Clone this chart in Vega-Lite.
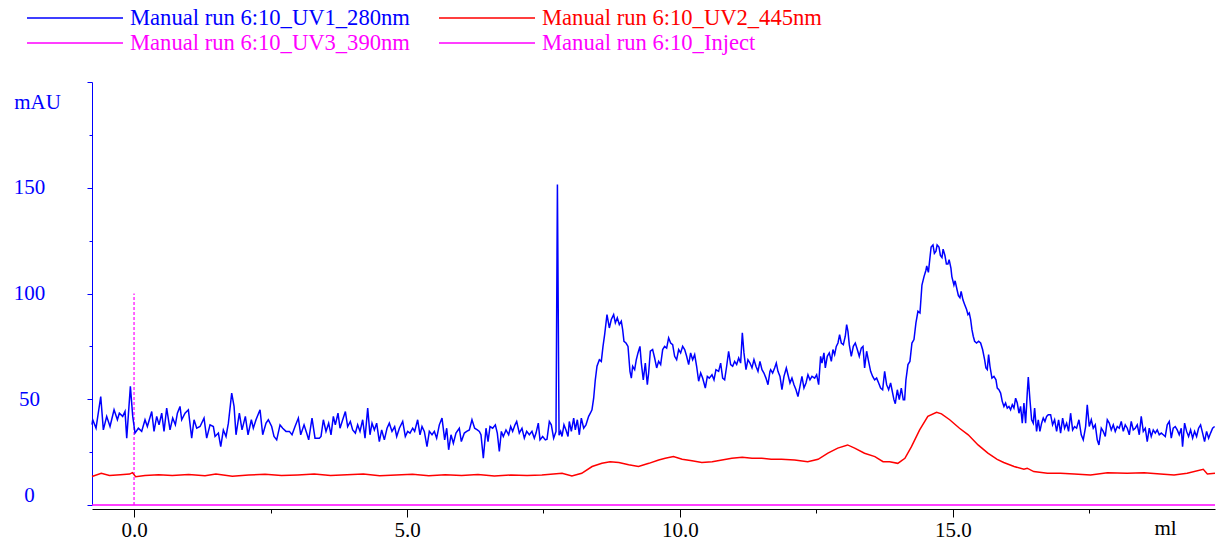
{
"$schema": "https://vega.github.io/schema/vega-lite/v6.json",
"width": 1123, "height": 423,
"autosize": {"type": "none"},
"padding": {"left": 92, "top": 82, "right": 4, "bottom": 35},
"config": {"view": {"stroke": null}, "font": "Liberation Serif"},
"data": {"values": [
{"s":"UV3_390nm","x":-0.77,"y":0},{"s":"UV3_390nm","x":19.8,"y":0},
{"s":"Inject","x":0,"y":0},{"s":"Inject","x":0,"y":100},
{"s":"UV2_445nm","x":-0.77,"y":13.5},{"s":"UV2_445nm","x":-0.6,"y":15.0},{"s":"UV2_445nm","x":-0.45,"y":14.0},{"s":"UV2_445nm","x":-0.25,"y":14.3},{"s":"UV2_445nm","x":-0.08,"y":14.6},{"s":"UV2_445nm","x":-0.03,"y":15.3},{"s":"UV2_445nm","x":0.03,"y":13.4},{"s":"UV2_445nm","x":0.2,"y":13.9},{"s":"UV2_445nm","x":0.45,"y":14.3},{"s":"UV2_445nm","x":0.7,"y":14.0},{"s":"UV2_445nm","x":1.0,"y":14.4},{"s":"UV2_445nm","x":1.3,"y":13.8},{"s":"UV2_445nm","x":1.5,"y":14.6},{"s":"UV2_445nm","x":1.8,"y":13.6},{"s":"UV2_445nm","x":2.1,"y":14.2},{"s":"UV2_445nm","x":2.4,"y":14.5},{"s":"UV2_445nm","x":2.7,"y":13.9},{"s":"UV2_445nm","x":3.0,"y":14.2},{"s":"UV2_445nm","x":3.3,"y":14.6},{"s":"UV2_445nm","x":3.6,"y":13.9},{"s":"UV2_445nm","x":3.9,"y":14.3},{"s":"UV2_445nm","x":4.2,"y":14.6},{"s":"UV2_445nm","x":4.5,"y":13.8},{"s":"UV2_445nm","x":4.8,"y":14.2},{"s":"UV2_445nm","x":5.1,"y":14.5},{"s":"UV2_445nm","x":5.4,"y":13.8},{"s":"UV2_445nm","x":5.7,"y":14.3},{"s":"UV2_445nm","x":6.0,"y":14.0},{"s":"UV2_445nm","x":6.3,"y":14.4},{"s":"UV2_445nm","x":6.6,"y":13.7},{"s":"UV2_445nm","x":6.9,"y":14.2},{"s":"UV2_445nm","x":7.2,"y":14.0},{"s":"UV2_445nm","x":7.47,"y":14.2},{"s":"UV2_445nm","x":7.84,"y":15.0},{"s":"UV2_445nm","x":8.02,"y":13.7},{"s":"UV2_445nm","x":8.2,"y":15.0},{"s":"UV2_445nm","x":8.39,"y":18.2},{"s":"UV2_445nm","x":8.57,"y":19.7},{"s":"UV2_445nm","x":8.72,"y":20.5},{"s":"UV2_445nm","x":8.88,"y":20.1},{"s":"UV2_445nm","x":9.06,"y":19.0},{"s":"UV2_445nm","x":9.24,"y":18.2},{"s":"UV2_445nm","x":9.43,"y":19.7},{"s":"UV2_445nm","x":9.61,"y":21.3},{"s":"UV2_445nm","x":9.73,"y":22.1},{"s":"UV2_445nm","x":9.88,"y":22.9},{"s":"UV2_445nm","x":10.04,"y":21.6},{"s":"UV2_445nm","x":10.22,"y":20.9},{"s":"UV2_445nm","x":10.4,"y":20.1},{"s":"UV2_445nm","x":10.59,"y":20.5},{"s":"UV2_445nm","x":10.77,"y":21.3},{"s":"UV2_445nm","x":10.95,"y":22.1},{"s":"UV2_445nm","x":11.14,"y":22.6},{"s":"UV2_445nm","x":11.32,"y":22.1},{"s":"UV2_445nm","x":11.5,"y":22.1},{"s":"UV2_445nm","x":11.67,"y":21.6},{"s":"UV2_445nm","x":11.86,"y":21.6},{"s":"UV2_445nm","x":12.1,"y":21.3},{"s":"UV2_445nm","x":12.34,"y":20.5},{"s":"UV2_445nm","x":12.53,"y":21.6},{"s":"UV2_445nm","x":12.71,"y":24.5},{"s":"UV2_445nm","x":12.89,"y":26.9},{"s":"UV2_445nm","x":13.07,"y":28.4},{"s":"UV2_445nm","x":13.2,"y":26.9},{"s":"UV2_445nm","x":13.38,"y":24.5},{"s":"UV2_445nm","x":13.57,"y":22.9},{"s":"UV2_445nm","x":13.72,"y":20.5},{"s":"UV2_445nm","x":13.84,"y":20.5},{"s":"UV2_445nm","x":13.99,"y":19.7},{"s":"UV2_445nm","x":14.12,"y":22.1},{"s":"UV2_445nm","x":14.24,"y":27.6},{"s":"UV2_445nm","x":14.39,"y":35.5},{"s":"UV2_445nm","x":14.54,"y":41.9},{"s":"UV2_445nm","x":14.7,"y":43.8},{"s":"UV2_445nm","x":14.79,"y":43.1},{"s":"UV2_445nm","x":14.94,"y":40.3},{"s":"UV2_445nm","x":15.12,"y":36.3},{"s":"UV2_445nm","x":15.28,"y":33.2},{"s":"UV2_445nm","x":15.46,"y":28.4},{"s":"UV2_445nm","x":15.64,"y":24.5},{"s":"UV2_445nm","x":15.81,"y":21.6},{"s":"UV2_445nm","x":15.93,"y":20.1},{"s":"UV2_445nm","x":16.12,"y":18.2},{"s":"UV2_445nm","x":16.3,"y":16.9},{"s":"UV2_445nm","x":16.36,"y":17.4},{"s":"UV2_445nm","x":16.48,"y":15.8},{"s":"UV2_445nm","x":16.73,"y":15.0},{"s":"UV2_445nm","x":16.97,"y":15.0},{"s":"UV2_445nm","x":17.22,"y":14.7},{"s":"UV2_445nm","x":17.52,"y":14.2},{"s":"UV2_445nm","x":17.83,"y":15.3},{"s":"UV2_445nm","x":18.19,"y":15.0},{"s":"UV2_445nm","x":18.5,"y":15.3},{"s":"UV2_445nm","x":18.8,"y":14.7},{"s":"UV2_445nm","x":19.05,"y":14.2},{"s":"UV2_445nm","x":19.29,"y":15.0},{"s":"UV2_445nm","x":19.585,"y":16.9},{"s":"UV2_445nm","x":19.66,"y":14.7},{"s":"UV2_445nm","x":19.8,"y":15.0},
{"s":"UV1_280nm","x":-0.77,"y":38},{"s":"UV1_280nm","x":-0.757,"y":40.3},{"s":"UV1_280nm","x":-0.696,"y":36.3},{"s":"UV1_280nm","x":-0.61,"y":51.3},{"s":"UV1_280nm","x":-0.562,"y":35.5},{"s":"UV1_280nm","x":-0.501,"y":41.9},{"s":"UV1_280nm","x":-0.44,"y":37.1},{"s":"UV1_280nm","x":-0.366,"y":45.0},{"s":"UV1_280nm","x":-0.305,"y":40.3},{"s":"UV1_280nm","x":-0.269,"y":43.4},{"s":"UV1_280nm","x":-0.208,"y":41.9},{"s":"UV1_280nm","x":-0.165,"y":44.2},{"s":"UV1_280nm","x":-0.134,"y":31.6},{"s":"UV1_280nm","x":-0.067,"y":56.1},{"s":"UV1_280nm","x":-0.024,"y":41.9},{"s":"UV1_280nm","x":0.018,"y":34.0},{"s":"UV1_280nm","x":0.079,"y":36.3},{"s":"UV1_280nm","x":0.14,"y":34.8},{"s":"UV1_280nm","x":0.201,"y":40.3},{"s":"UV1_280nm","x":0.244,"y":37.1},{"s":"UV1_280nm","x":0.324,"y":44.2},{"s":"UV1_280nm","x":0.366,"y":34.8},{"s":"UV1_280nm","x":0.415,"y":41.9},{"s":"UV1_280nm","x":0.458,"y":37.9},{"s":"UV1_280nm","x":0.507,"y":43.4},{"s":"UV1_280nm","x":0.549,"y":34.8},{"s":"UV1_280nm","x":0.598,"y":45.8},{"s":"UV1_280nm","x":0.659,"y":35.5},{"s":"UV1_280nm","x":0.708,"y":41.1},{"s":"UV1_280nm","x":0.757,"y":37.9},{"s":"UV1_280nm","x":0.794,"y":43.4},{"s":"UV1_280nm","x":0.842,"y":46.6},{"s":"UV1_280nm","x":0.873,"y":40.3},{"s":"UV1_280nm","x":0.934,"y":43.4},{"s":"UV1_280nm","x":0.995,"y":45.0},{"s":"UV1_280nm","x":1.056,"y":31.6},{"s":"UV1_280nm","x":1.099,"y":40.3},{"s":"UV1_280nm","x":1.148,"y":36.3},{"s":"UV1_280nm","x":1.209,"y":37.1},{"s":"UV1_280nm","x":1.282,"y":41.1},{"s":"UV1_280nm","x":1.331,"y":31.6},{"s":"UV1_280nm","x":1.392,"y":37.9},{"s":"UV1_280nm","x":1.453,"y":37.1},{"s":"UV1_280nm","x":1.484,"y":32.4},{"s":"UV1_280nm","x":1.545,"y":34.0},{"s":"UV1_280nm","x":1.588,"y":27.6},{"s":"UV1_280nm","x":1.636,"y":35.5},{"s":"UV1_280nm","x":1.685,"y":32.4},{"s":"UV1_280nm","x":1.728,"y":38.7},{"s":"UV1_280nm","x":1.789,"y":52.9},{"s":"UV1_280nm","x":1.832,"y":46.6},{"s":"UV1_280nm","x":1.868,"y":33.2},{"s":"UV1_280nm","x":1.929,"y":43.4},{"s":"UV1_280nm","x":1.978,"y":35.5},{"s":"UV1_280nm","x":2.039,"y":41.9},{"s":"UV1_280nm","x":2.088,"y":33.2},{"s":"UV1_280nm","x":2.149,"y":40.3},{"s":"UV1_280nm","x":2.185,"y":36.3},{"s":"UV1_280nm","x":2.234,"y":40.3},{"s":"UV1_280nm","x":2.308,"y":45.0},{"s":"UV1_280nm","x":2.357,"y":33.2},{"s":"UV1_280nm","x":2.418,"y":38.7},{"s":"UV1_280nm","x":2.46,"y":40.3},{"s":"UV1_280nm","x":2.521,"y":37.1},{"s":"UV1_280nm","x":2.564,"y":32.4},{"s":"UV1_280nm","x":2.613,"y":30.8},{"s":"UV1_280nm","x":2.674,"y":37.9},{"s":"UV1_280nm","x":2.723,"y":36.3},{"s":"UV1_280nm","x":2.784,"y":34.8},{"s":"UV1_280nm","x":2.845,"y":34.8},{"s":"UV1_280nm","x":2.894,"y":33.2},{"s":"UV1_280nm","x":2.949,"y":37.1},{"s":"UV1_280nm","x":3.01,"y":41.1},{"s":"UV1_280nm","x":3.053,"y":33.2},{"s":"UV1_280nm","x":3.114,"y":37.9},{"s":"UV1_280nm","x":3.162,"y":34.0},{"s":"UV1_280nm","x":3.199,"y":30.8},{"s":"UV1_280nm","x":3.26,"y":41.1},{"s":"UV1_280nm","x":3.315,"y":31.6},{"s":"UV1_280nm","x":3.394,"y":31.6},{"s":"UV1_280nm","x":3.425,"y":32.4},{"s":"UV1_280nm","x":3.468,"y":40.3},{"s":"UV1_280nm","x":3.516,"y":34.8},{"s":"UV1_280nm","x":3.565,"y":38.7},{"s":"UV1_280nm","x":3.608,"y":33.2},{"s":"UV1_280nm","x":3.651,"y":41.9},{"s":"UV1_280nm","x":3.687,"y":37.9},{"s":"UV1_280nm","x":3.736,"y":43.4},{"s":"UV1_280nm","x":3.773,"y":36.3},{"s":"UV1_280nm","x":3.822,"y":40.3},{"s":"UV1_280nm","x":3.871,"y":44.2},{"s":"UV1_280nm","x":3.913,"y":37.1},{"s":"UV1_280nm","x":3.962,"y":39.5},{"s":"UV1_280nm","x":4.005,"y":35.5},{"s":"UV1_280nm","x":4.054,"y":34.0},{"s":"UV1_280nm","x":4.096,"y":37.9},{"s":"UV1_280nm","x":4.139,"y":34.8},{"s":"UV1_280nm","x":4.188,"y":40.3},{"s":"UV1_280nm","x":4.231,"y":31.6},{"s":"UV1_280nm","x":4.28,"y":45.8},{"s":"UV1_280nm","x":4.322,"y":33.2},{"s":"UV1_280nm","x":4.359,"y":38.7},{"s":"UV1_280nm","x":4.402,"y":35.5},{"s":"UV1_280nm","x":4.444,"y":38.7},{"s":"UV1_280nm","x":4.493,"y":30.0},{"s":"UV1_280nm","x":4.536,"y":35.5},{"s":"UV1_280nm","x":4.585,"y":30.8},{"s":"UV1_280nm","x":4.634,"y":36.3},{"s":"UV1_280nm","x":4.676,"y":38.7},{"s":"UV1_280nm","x":4.725,"y":34.8},{"s":"UV1_280nm","x":4.774,"y":37.1},{"s":"UV1_280nm","x":4.811,"y":32.4},{"s":"UV1_280nm","x":4.86,"y":36.3},{"s":"UV1_280nm","x":4.921,"y":39.5},{"s":"UV1_280nm","x":4.969,"y":32.4},{"s":"UV1_280nm","x":5.012,"y":34.8},{"s":"UV1_280nm","x":5.055,"y":34.0},{"s":"UV1_280nm","x":5.104,"y":36.3},{"s":"UV1_280nm","x":5.14,"y":34.8},{"s":"UV1_280nm","x":5.195,"y":40.3},{"s":"UV1_280nm","x":5.238,"y":33.2},{"s":"UV1_280nm","x":5.275,"y":37.1},{"s":"UV1_280nm","x":5.317,"y":34.8},{"s":"UV1_280nm","x":5.366,"y":27.6},{"s":"UV1_280nm","x":5.409,"y":34.8},{"s":"UV1_280nm","x":5.458,"y":33.2},{"s":"UV1_280nm","x":5.501,"y":34.8},{"s":"UV1_280nm","x":5.543,"y":31.6},{"s":"UV1_280nm","x":5.592,"y":37.9},{"s":"UV1_280nm","x":5.641,"y":41.1},{"s":"UV1_280nm","x":5.69,"y":30.8},{"s":"UV1_280nm","x":5.727,"y":36.3},{"s":"UV1_280nm","x":5.763,"y":26.1},{"s":"UV1_280nm","x":5.806,"y":33.2},{"s":"UV1_280nm","x":5.849,"y":29.2},{"s":"UV1_280nm","x":5.897,"y":34.0},{"s":"UV1_280nm","x":5.958,"y":36.3},{"s":"UV1_280nm","x":5.995,"y":30.0},{"s":"UV1_280nm","x":6.05,"y":34.0},{"s":"UV1_280nm","x":6.093,"y":34.8},{"s":"UV1_280nm","x":6.142,"y":35.5},{"s":"UV1_280nm","x":6.19,"y":40.3},{"s":"UV1_280nm","x":6.239,"y":36.3},{"s":"UV1_280nm","x":6.288,"y":35.5},{"s":"UV1_280nm","x":6.325,"y":34.8},{"s":"UV1_280nm","x":6.355,"y":33.2},{"s":"UV1_280nm","x":6.398,"y":22.1},{"s":"UV1_280nm","x":6.447,"y":36.3},{"s":"UV1_280nm","x":6.484,"y":30.0},{"s":"UV1_280nm","x":6.52,"y":37.1},{"s":"UV1_280nm","x":6.569,"y":36.3},{"s":"UV1_280nm","x":6.618,"y":37.9},{"s":"UV1_280nm","x":6.654,"y":34.0},{"s":"UV1_280nm","x":6.691,"y":25.3},{"s":"UV1_280nm","x":6.728,"y":34.8},{"s":"UV1_280nm","x":6.764,"y":32.4},{"s":"UV1_280nm","x":6.813,"y":35.5},{"s":"UV1_280nm","x":6.862,"y":33.2},{"s":"UV1_280nm","x":6.899,"y":37.1},{"s":"UV1_280nm","x":6.935,"y":34.8},{"s":"UV1_280nm","x":6.978,"y":37.9},{"s":"UV1_280nm","x":7.009,"y":39.5},{"s":"UV1_280nm","x":7.057,"y":34.0},{"s":"UV1_280nm","x":7.106,"y":36.3},{"s":"UV1_280nm","x":7.149,"y":31.6},{"s":"UV1_280nm","x":7.192,"y":34.8},{"s":"UV1_280nm","x":7.241,"y":33.2},{"s":"UV1_280nm","x":7.289,"y":34.8},{"s":"UV1_280nm","x":7.332,"y":31.6},{"s":"UV1_280nm","x":7.363,"y":34.0},{"s":"UV1_280nm","x":7.405,"y":38.7},{"s":"UV1_280nm","x":7.436,"y":30.8},{"s":"UV1_280nm","x":7.485,"y":32.4},{"s":"UV1_280nm","x":7.534,"y":30.8},{"s":"UV1_280nm","x":7.564,"y":31.1},{"s":"UV1_280nm","x":7.607,"y":39.5},{"s":"UV1_280nm","x":7.643,"y":37.9},{"s":"UV1_280nm","x":7.686,"y":31.6},{"s":"UV1_280nm","x":7.729,"y":34.8},{"s":"UV1_280nm","x":7.755,"y":151.5},{"s":"UV1_280nm","x":7.785,"y":33.0},{"s":"UV1_280nm","x":7.814,"y":34.8},{"s":"UV1_280nm","x":7.839,"y":32.4},{"s":"UV1_280nm","x":7.875,"y":37.9},{"s":"UV1_280nm","x":7.912,"y":35.5},{"s":"UV1_280nm","x":7.949,"y":32.4},{"s":"UV1_280nm","x":7.973,"y":39.5},{"s":"UV1_280nm","x":8.01,"y":34.8},{"s":"UV1_280nm","x":8.053,"y":41.1},{"s":"UV1_280nm","x":8.083,"y":35.5},{"s":"UV1_280nm","x":8.12,"y":40.3},{"s":"UV1_280nm","x":8.156,"y":33.2},{"s":"UV1_280nm","x":8.193,"y":41.1},{"s":"UV1_280nm","x":8.236,"y":36.3},{"s":"UV1_280nm","x":8.278,"y":37.9},{"s":"UV1_280nm","x":8.327,"y":41.9},{"s":"UV1_280nm","x":8.358,"y":43.4},{"s":"UV1_280nm","x":8.388,"y":45.0},{"s":"UV1_280nm","x":8.419,"y":50.5},{"s":"UV1_280nm","x":8.449,"y":59.2},{"s":"UV1_280nm","x":8.48,"y":65.6},{"s":"UV1_280nm","x":8.523,"y":68.7},{"s":"UV1_280nm","x":8.559,"y":67.9},{"s":"UV1_280nm","x":8.59,"y":75.0},{"s":"UV1_280nm","x":8.62,"y":80.6},{"s":"UV1_280nm","x":8.663,"y":90.0},{"s":"UV1_280nm","x":8.706,"y":83.7},{"s":"UV1_280nm","x":8.742,"y":87.7},{"s":"UV1_280nm","x":8.785,"y":90.0},{"s":"UV1_280nm","x":8.816,"y":86.1},{"s":"UV1_280nm","x":8.852,"y":88.5},{"s":"UV1_280nm","x":8.889,"y":85.3},{"s":"UV1_280nm","x":8.925,"y":86.9},{"s":"UV1_280nm","x":8.95,"y":82.9},{"s":"UV1_280nm","x":8.974,"y":77.4},{"s":"UV1_280nm","x":9.011,"y":76.6},{"s":"UV1_280nm","x":9.048,"y":75.0},{"s":"UV1_280nm","x":9.084,"y":63.2},{"s":"UV1_280nm","x":9.109,"y":60.0},{"s":"UV1_280nm","x":9.133,"y":65.6},{"s":"UV1_280nm","x":9.17,"y":64.0},{"s":"UV1_280nm","x":9.2,"y":68.7},{"s":"UV1_280nm","x":9.231,"y":71.9},{"s":"UV1_280nm","x":9.267,"y":75.0},{"s":"UV1_280nm","x":9.292,"y":67.1},{"s":"UV1_280nm","x":9.328,"y":59.2},{"s":"UV1_280nm","x":9.365,"y":67.1},{"s":"UV1_280nm","x":9.402,"y":56.9},{"s":"UV1_280nm","x":9.426,"y":62.4},{"s":"UV1_280nm","x":9.457,"y":72.7},{"s":"UV1_280nm","x":9.499,"y":73.5},{"s":"UV1_280nm","x":9.536,"y":69.5},{"s":"UV1_280nm","x":9.573,"y":64.8},{"s":"UV1_280nm","x":9.609,"y":67.9},{"s":"UV1_280nm","x":9.646,"y":66.4},{"s":"UV1_280nm","x":9.683,"y":73.5},{"s":"UV1_280nm","x":9.719,"y":75.0},{"s":"UV1_280nm","x":9.756,"y":74.2},{"s":"UV1_280nm","x":9.792,"y":79.0},{"s":"UV1_280nm","x":9.829,"y":76.6},{"s":"UV1_280nm","x":9.866,"y":75.8},{"s":"UV1_280nm","x":9.902,"y":70.3},{"s":"UV1_280nm","x":9.939,"y":68.7},{"s":"UV1_280nm","x":9.976,"y":73.5},{"s":"UV1_280nm","x":10.012,"y":71.9},{"s":"UV1_280nm","x":10.049,"y":75.0},{"s":"UV1_280nm","x":10.086,"y":73.5},{"s":"UV1_280nm","x":10.122,"y":70.3},{"s":"UV1_280nm","x":10.159,"y":66.4},{"s":"UV1_280nm","x":10.195,"y":71.9},{"s":"UV1_280nm","x":10.232,"y":68.7},{"s":"UV1_280nm","x":10.269,"y":71.1},{"s":"UV1_280nm","x":10.305,"y":65.6},{"s":"UV1_280nm","x":10.342,"y":58.5},{"s":"UV1_280nm","x":10.379,"y":62.4},{"s":"UV1_280nm","x":10.415,"y":60.0},{"s":"UV1_280nm","x":10.464,"y":55.3},{"s":"UV1_280nm","x":10.501,"y":60.8},{"s":"UV1_280nm","x":10.537,"y":60.0},{"s":"UV1_280nm","x":10.586,"y":61.6},{"s":"UV1_280nm","x":10.623,"y":59.2},{"s":"UV1_280nm","x":10.659,"y":64.0},{"s":"UV1_280nm","x":10.708,"y":63.2},{"s":"UV1_280nm","x":10.745,"y":67.1},{"s":"UV1_280nm","x":10.782,"y":60.0},{"s":"UV1_280nm","x":10.818,"y":59.2},{"s":"UV1_280nm","x":10.855,"y":65.6},{"s":"UV1_280nm","x":10.891,"y":72.7},{"s":"UV1_280nm","x":10.928,"y":66.4},{"s":"UV1_280nm","x":10.965,"y":65.6},{"s":"UV1_280nm","x":11.001,"y":67.9},{"s":"UV1_280nm","x":11.038,"y":66.4},{"s":"UV1_280nm","x":11.075,"y":69.5},{"s":"UV1_280nm","x":11.111,"y":67.1},{"s":"UV1_280nm","x":11.142,"y":81.4},{"s":"UV1_280nm","x":11.172,"y":71.9},{"s":"UV1_280nm","x":11.209,"y":64.0},{"s":"UV1_280nm","x":11.245,"y":68.7},{"s":"UV1_280nm","x":11.282,"y":67.1},{"s":"UV1_280nm","x":11.319,"y":64.8},{"s":"UV1_280nm","x":11.355,"y":68.7},{"s":"UV1_280nm","x":11.392,"y":65.6},{"s":"UV1_280nm","x":11.429,"y":63.2},{"s":"UV1_280nm","x":11.465,"y":67.9},{"s":"UV1_280nm","x":11.502,"y":64.0},{"s":"UV1_280nm","x":11.538,"y":62.4},{"s":"UV1_280nm","x":11.575,"y":60.0},{"s":"UV1_280nm","x":11.612,"y":56.9},{"s":"UV1_280nm","x":11.648,"y":63.2},{"s":"UV1_280nm","x":11.661,"y":64.0},{"s":"UV1_280nm","x":11.697,"y":62.4},{"s":"UV1_280nm","x":11.734,"y":64.8},{"s":"UV1_280nm","x":11.764,"y":67.1},{"s":"UV1_280nm","x":11.795,"y":63.2},{"s":"UV1_280nm","x":11.832,"y":60.8},{"s":"UV1_280nm","x":11.868,"y":54.5},{"s":"UV1_280nm","x":11.905,"y":60.8},{"s":"UV1_280nm","x":11.948,"y":64.8},{"s":"UV1_280nm","x":11.978,"y":61.6},{"s":"UV1_280nm","x":12.015,"y":57.7},{"s":"UV1_280nm","x":12.051,"y":60.0},{"s":"UV1_280nm","x":12.088,"y":56.9},{"s":"UV1_280nm","x":12.125,"y":54.5},{"s":"UV1_280nm","x":12.161,"y":51.3},{"s":"UV1_280nm","x":12.198,"y":56.1},{"s":"UV1_280nm","x":12.234,"y":60.8},{"s":"UV1_280nm","x":12.271,"y":55.3},{"s":"UV1_280nm","x":12.308,"y":57.7},{"s":"UV1_280nm","x":12.344,"y":61.6},{"s":"UV1_280nm","x":12.381,"y":59.2},{"s":"UV1_280nm","x":12.418,"y":60.8},{"s":"UV1_280nm","x":12.467,"y":60.0},{"s":"UV1_280nm","x":12.503,"y":61.6},{"s":"UV1_280nm","x":12.54,"y":56.9},{"s":"UV1_280nm","x":12.576,"y":70.3},{"s":"UV1_280nm","x":12.601,"y":67.1},{"s":"UV1_280nm","x":12.637,"y":71.9},{"s":"UV1_280nm","x":12.662,"y":64.8},{"s":"UV1_280nm","x":12.698,"y":70.3},{"s":"UV1_280nm","x":12.735,"y":71.9},{"s":"UV1_280nm","x":12.772,"y":67.9},{"s":"UV1_280nm","x":12.802,"y":73.5},{"s":"UV1_280nm","x":12.833,"y":71.1},{"s":"UV1_280nm","x":12.863,"y":75.0},{"s":"UV1_280nm","x":12.894,"y":76.6},{"s":"UV1_280nm","x":12.924,"y":80.6},{"s":"UV1_280nm","x":12.955,"y":76.6},{"s":"UV1_280nm","x":12.992,"y":75.8},{"s":"UV1_280nm","x":13.028,"y":79.8},{"s":"UV1_280nm","x":13.053,"y":85.3},{"s":"UV1_280nm","x":13.077,"y":82.1},{"s":"UV1_280nm","x":13.101,"y":75.8},{"s":"UV1_280nm","x":13.138,"y":70.3},{"s":"UV1_280nm","x":13.175,"y":75.0},{"s":"UV1_280nm","x":13.211,"y":76.6},{"s":"UV1_280nm","x":13.248,"y":73.5},{"s":"UV1_280nm","x":13.284,"y":70.3},{"s":"UV1_280nm","x":13.321,"y":74.2},{"s":"UV1_280nm","x":13.352,"y":75.0},{"s":"UV1_280nm","x":13.382,"y":64.8},{"s":"UV1_280nm","x":13.419,"y":72.7},{"s":"UV1_280nm","x":13.455,"y":67.9},{"s":"UV1_280nm","x":13.492,"y":63.2},{"s":"UV1_280nm","x":13.529,"y":60.8},{"s":"UV1_280nm","x":13.565,"y":59.2},{"s":"UV1_280nm","x":13.602,"y":60.0},{"s":"UV1_280nm","x":13.639,"y":57.7},{"s":"UV1_280nm","x":13.675,"y":55.3},{"s":"UV1_280nm","x":13.712,"y":54.5},{"s":"UV1_280nm","x":13.749,"y":63.2},{"s":"UV1_280nm","x":13.785,"y":56.9},{"s":"UV1_280nm","x":13.822,"y":54.5},{"s":"UV1_280nm","x":13.858,"y":57.7},{"s":"UV1_280nm","x":13.883,"y":54.5},{"s":"UV1_280nm","x":13.919,"y":49.8},{"s":"UV1_280nm","x":13.944,"y":47.9},{"s":"UV1_280nm","x":13.981,"y":54.5},{"s":"UV1_280nm","x":14.017,"y":49.8},{"s":"UV1_280nm","x":14.054,"y":55.3},{"s":"UV1_280nm","x":14.09,"y":49.8},{"s":"UV1_280nm","x":14.115,"y":49.8},{"s":"UV1_280nm","x":14.139,"y":59.2},{"s":"UV1_280nm","x":14.176,"y":66.4},{"s":"UV1_280nm","x":14.212,"y":67.9},{"s":"UV1_280nm","x":14.249,"y":76.6},{"s":"UV1_280nm","x":14.286,"y":78.2},{"s":"UV1_280nm","x":14.322,"y":86.1},{"s":"UV1_280nm","x":14.359,"y":91.6},{"s":"UV1_280nm","x":14.396,"y":90.8},{"s":"UV1_280nm","x":14.432,"y":104},{"s":"UV1_280nm","x":14.47,"y":108},{"s":"UV1_280nm","x":14.505,"y":111},{"s":"UV1_280nm","x":14.52,"y":113},{"s":"UV1_280nm","x":14.55,"y":110},{"s":"UV1_280nm","x":14.6,"y":122},{"s":"UV1_280nm","x":14.634,"y":123},{"s":"UV1_280nm","x":14.66,"y":119},{"s":"UV1_280nm","x":14.689,"y":120},{"s":"UV1_280nm","x":14.71,"y":123},{"s":"UV1_280nm","x":14.744,"y":122},{"s":"UV1_280nm","x":14.77,"y":118},{"s":"UV1_280nm","x":14.799,"y":117},{"s":"UV1_280nm","x":14.82,"y":121},{"s":"UV1_280nm","x":14.853,"y":118},{"s":"UV1_280nm","x":14.88,"y":114},{"s":"UV1_280nm","x":14.908,"y":114},{"s":"UV1_280nm","x":14.93,"y":116},{"s":"UV1_280nm","x":14.963,"y":112},{"s":"UV1_280nm","x":14.98,"y":108},{"s":"UV1_280nm","x":15.018,"y":104},{"s":"UV1_280nm","x":15.04,"y":106},{"s":"UV1_280nm","x":15.073,"y":102},{"s":"UV1_280nm","x":15.1,"y":99},{"s":"UV1_280nm","x":15.128,"y":98},{"s":"UV1_280nm","x":15.15,"y":101},{"s":"UV1_280nm","x":15.183,"y":97},{"s":"UV1_280nm","x":15.214,"y":94.8},{"s":"UV1_280nm","x":15.25,"y":92.4},{"s":"UV1_280nm","x":15.275,"y":90.0},{"s":"UV1_280nm","x":15.299,"y":90.8},{"s":"UV1_280nm","x":15.324,"y":87.7},{"s":"UV1_280nm","x":15.348,"y":82.9},{"s":"UV1_280nm","x":15.372,"y":79.8},{"s":"UV1_280nm","x":15.397,"y":77.4},{"s":"UV1_280nm","x":15.433,"y":76.6},{"s":"UV1_280nm","x":15.47,"y":77.4},{"s":"UV1_280nm","x":15.507,"y":76.6},{"s":"UV1_280nm","x":15.543,"y":73.5},{"s":"UV1_280nm","x":15.58,"y":68.7},{"s":"UV1_280nm","x":15.604,"y":64.8},{"s":"UV1_280nm","x":15.629,"y":64.0},{"s":"UV1_280nm","x":15.653,"y":71.1},{"s":"UV1_280nm","x":15.678,"y":65.6},{"s":"UV1_280nm","x":15.714,"y":60.0},{"s":"UV1_280nm","x":15.751,"y":60.8},{"s":"UV1_280nm","x":15.788,"y":59.2},{"s":"UV1_280nm","x":15.812,"y":55.3},{"s":"UV1_280nm","x":15.842,"y":54.5},{"s":"UV1_280nm","x":15.873,"y":52.9},{"s":"UV1_280nm","x":15.903,"y":49.0},{"s":"UV1_280nm","x":15.934,"y":46.6},{"s":"UV1_280nm","x":15.964,"y":48.2},{"s":"UV1_280nm","x":15.995,"y":45.8},{"s":"UV1_280nm","x":16.026,"y":46.6},{"s":"UV1_280nm","x":16.056,"y":45.0},{"s":"UV1_280nm","x":16.087,"y":47.4},{"s":"UV1_280nm","x":16.117,"y":45.8},{"s":"UV1_280nm","x":16.148,"y":50.5},{"s":"UV1_280nm","x":16.178,"y":48.2},{"s":"UV1_280nm","x":16.209,"y":43.4},{"s":"UV1_280nm","x":16.239,"y":46.6},{"s":"UV1_280nm","x":16.27,"y":38.7},{"s":"UV1_280nm","x":16.3,"y":48.2},{"s":"UV1_280nm","x":16.331,"y":38.7},{"s":"UV1_280nm","x":16.361,"y":52.9},{"s":"UV1_280nm","x":16.38,"y":60.5},{"s":"UV1_280nm","x":16.41,"y":49.8},{"s":"UV1_280nm","x":16.441,"y":40.3},{"s":"UV1_280nm","x":16.471,"y":38.7},{"s":"UV1_280nm","x":16.496,"y":45.8},{"s":"UV1_280nm","x":16.532,"y":34.8},{"s":"UV1_280nm","x":16.563,"y":40.3},{"s":"UV1_280nm","x":16.593,"y":34.8},{"s":"UV1_280nm","x":16.624,"y":38.7},{"s":"UV1_280nm","x":16.654,"y":41.1},{"s":"UV1_280nm","x":16.685,"y":39.5},{"s":"UV1_280nm","x":16.716,"y":41.9},{"s":"UV1_280nm","x":16.746,"y":42.7},{"s":"UV1_280nm","x":16.789,"y":42.7},{"s":"UV1_280nm","x":16.825,"y":37.9},{"s":"UV1_280nm","x":16.862,"y":40.3},{"s":"UV1_280nm","x":16.899,"y":34.8},{"s":"UV1_280nm","x":16.935,"y":40.3},{"s":"UV1_280nm","x":16.972,"y":34.0},{"s":"UV1_280nm","x":17.009,"y":41.1},{"s":"UV1_280nm","x":17.045,"y":36.3},{"s":"UV1_280nm","x":17.082,"y":38.7},{"s":"UV1_280nm","x":17.118,"y":34.8},{"s":"UV1_280nm","x":17.155,"y":43.4},{"s":"UV1_280nm","x":17.192,"y":35.5},{"s":"UV1_280nm","x":17.228,"y":37.1},{"s":"UV1_280nm","x":17.265,"y":36.3},{"s":"UV1_280nm","x":17.308,"y":40.3},{"s":"UV1_280nm","x":17.35,"y":33.2},{"s":"UV1_280nm","x":17.387,"y":30.8},{"s":"UV1_280nm","x":17.43,"y":37.1},{"s":"UV1_280nm","x":17.46,"y":47.4},{"s":"UV1_280nm","x":17.497,"y":37.1},{"s":"UV1_280nm","x":17.534,"y":40.3},{"s":"UV1_280nm","x":17.57,"y":36.3},{"s":"UV1_280nm","x":17.607,"y":37.9},{"s":"UV1_280nm","x":17.643,"y":30.8},{"s":"UV1_280nm","x":17.674,"y":28.4},{"s":"UV1_280nm","x":17.717,"y":36.3},{"s":"UV1_280nm","x":17.753,"y":34.8},{"s":"UV1_280nm","x":17.79,"y":32.4},{"s":"UV1_280nm","x":17.827,"y":40.3},{"s":"UV1_280nm","x":17.863,"y":38.7},{"s":"UV1_280nm","x":17.9,"y":35.5},{"s":"UV1_280nm","x":17.937,"y":37.9},{"s":"UV1_280nm","x":17.973,"y":34.8},{"s":"UV1_280nm","x":18.01,"y":37.1},{"s":"UV1_280nm","x":18.046,"y":36.3},{"s":"UV1_280nm","x":18.083,"y":39.5},{"s":"UV1_280nm","x":18.12,"y":34.8},{"s":"UV1_280nm","x":18.156,"y":37.9},{"s":"UV1_280nm","x":18.193,"y":36.3},{"s":"UV1_280nm","x":18.23,"y":33.2},{"s":"UV1_280nm","x":18.266,"y":39.5},{"s":"UV1_280nm","x":18.303,"y":35.5},{"s":"UV1_280nm","x":18.339,"y":36.3},{"s":"UV1_280nm","x":18.376,"y":37.9},{"s":"UV1_280nm","x":18.413,"y":33.2},{"s":"UV1_280nm","x":18.449,"y":41.9},{"s":"UV1_280nm","x":18.486,"y":34.8},{"s":"UV1_280nm","x":18.523,"y":36.3},{"s":"UV1_280nm","x":18.559,"y":30.0},{"s":"UV1_280nm","x":18.596,"y":36.3},{"s":"UV1_280nm","x":18.632,"y":32.4},{"s":"UV1_280nm","x":18.669,"y":35.5},{"s":"UV1_280nm","x":18.706,"y":34.0},{"s":"UV1_280nm","x":18.742,"y":35.5},{"s":"UV1_280nm","x":18.779,"y":33.2},{"s":"UV1_280nm","x":18.816,"y":34.0},{"s":"UV1_280nm","x":18.852,"y":33.2},{"s":"UV1_280nm","x":18.889,"y":32.4},{"s":"UV1_280nm","x":18.925,"y":37.9},{"s":"UV1_280nm","x":18.962,"y":39.5},{"s":"UV1_280nm","x":18.999,"y":31.6},{"s":"UV1_280nm","x":19.035,"y":36.3},{"s":"UV1_280nm","x":19.072,"y":37.1},{"s":"UV1_280nm","x":19.108,"y":35.5},{"s":"UV1_280nm","x":19.145,"y":33.2},{"s":"UV1_280nm","x":19.182,"y":36.3},{"s":"UV1_280nm","x":19.206,"y":27.6},{"s":"UV1_280nm","x":19.243,"y":38.7},{"s":"UV1_280nm","x":19.28,"y":34.8},{"s":"UV1_280nm","x":19.316,"y":32.4},{"s":"UV1_280nm","x":19.353,"y":35.5},{"s":"UV1_280nm","x":19.39,"y":31.6},{"s":"UV1_280nm","x":19.426,"y":34.8},{"s":"UV1_280nm","x":19.463,"y":32.4},{"s":"UV1_280nm","x":19.499,"y":36.3},{"s":"UV1_280nm","x":19.536,"y":37.9},{"s":"UV1_280nm","x":19.573,"y":34.0},{"s":"UV1_280nm","x":19.609,"y":30.0},{"s":"UV1_280nm","x":19.646,"y":34.8},{"s":"UV1_280nm","x":19.683,"y":31.6},{"s":"UV1_280nm","x":19.719,"y":34.0},{"s":"UV1_280nm","x":19.756,"y":36.3},{"s":"UV1_280nm","x":19.793,"y":37.1}
]},
"resolve": {"axis": {"x": "independent", "y": "independent"}},
"layer": [
{
"transform": [{"filter": "datum.s == 'UV3_390nm'"}],
"mark": {"type": "line", "strokeWidth": 1.5},
"encoding": {
"x": {"field": "x", "type": "quantitative", "scale": {"domain": [-0.77, 19.8], "nice": false, "zero": false},
  "axis": {"orient": "bottom", "offset": 4, "values": [2.5, 7.5, 12.5, 17.5], "labels": false, "domain": false, "grid": false, "tickSize": 4, "tickColor": "#000000", "title": null}},
"y": {"field": "y", "type": "quantitative", "scale": {"domain": [0, 200], "nice": false},
  "axis": {"orient": "left", "values": [25, 75, 125, 175], "labels": false, "domain": false, "grid": false, "tickSize": 3, "tickColor": "#0000FF", "title": null}},
"color": {"field": "s", "type": "nominal",
  "scale": {"domain": ["UV1_280nm", "UV2_445nm", "UV3_390nm", "Inject"], "range": ["#0000FF", "#FF0000", "#FF00FF", "#FF00FF"]},
  "legend": {"orient": "none", "direction": "horizontal", "legendX": -66, "legendY": -76, "columns": 2, "columnPadding": 28, "rowPadding": 1, "clipHeight": 24, "padding": 0, "title": null,
    "symbolType": "stroke", "symbolSize": 9216, "symbolStrokeWidth": 1.5, "symbolDash": [1, 0], "labelOffset": 6, "labelLimit": 500,
    "labelFont": "Liberation Serif", "labelFontSize": 22.6, "labelExpr": "'Manual run 6:10_' + datum.label",
    "encode": {"labels": {"update": {"fill": {"scale": "color", "field": "value"}}}}}}
}
},
{
"transform": [{"filter": "datum.s == 'Inject'"}],
"mark": {"type": "line", "strokeWidth": 1.2, "strokeDash": [3, 2]},
"encoding": {
"x": {"field": "x", "type": "quantitative", "scale": {"domain": [-0.77, 19.8], "nice": false, "zero": false}, "axis": null},
"y": {"field": "y", "type": "quantitative", "scale": {"domain": [0, 200], "nice": false}, "axis": null},
"color": {"field": "s", "type": "nominal"}
}
},
{
"transform": [{"filter": "datum.s == 'UV1_280nm' || datum.s == 'UV2_445nm'"}],
"mark": {"type": "line", "strokeWidth": 1.5},
"encoding": {
"x": {"field": "x", "type": "quantitative", "scale": {"domain": [-0.77, 19.8], "nice": false, "zero": false},
  "axis": {"orient": "bottom", "offset": 4, "values": [0, 5, 10, 15], "format": ".1f", "grid": false, "tickSize": 8, "tickColor": "#000000", "domainColor": "#000000", "labelColor": "#000000",
    "labelFont": "Liberation Serif", "labelFontSize": 21, "labelPadding": 2,
    "title": "ml", "titleX": 1073, "titleY": 19, "titleAlign": "center", "titleBaseline": "middle", "titleFont": "Liberation Serif", "titleFontSize": 21, "titleFontWeight": "normal", "titleColor": "#000000"}},
"y": {"field": "y", "type": "quantitative", "scale": {"domain": [0, 200], "nice": false},
  "axis": {"orient": "left", "values": [0, 50, 100, 150, 200], "labelExpr": "datum.value < 200 ? datum.label : ''", "grid": false, "tickSize": 5, "tickColor": "#0000FF", "domainColor": "#0000FF", "labelColor": "#0000FF",
    "labelFont": "Liberation Serif", "labelFontSize": 21, "labelAlign": "center", "labelPadding": 58, "labelFlush": true,
    "title": "mAU", "titleAngle": 0, "titleX": -55, "titleY": 20, "titleAlign": "center", "titleBaseline": "middle", "titleFont": "Liberation Serif", "titleFontSize": 21, "titleFontWeight": "normal", "titleColor": "#0000FF"}},
"color": {"field": "s", "type": "nominal"}
}
}
]
}
